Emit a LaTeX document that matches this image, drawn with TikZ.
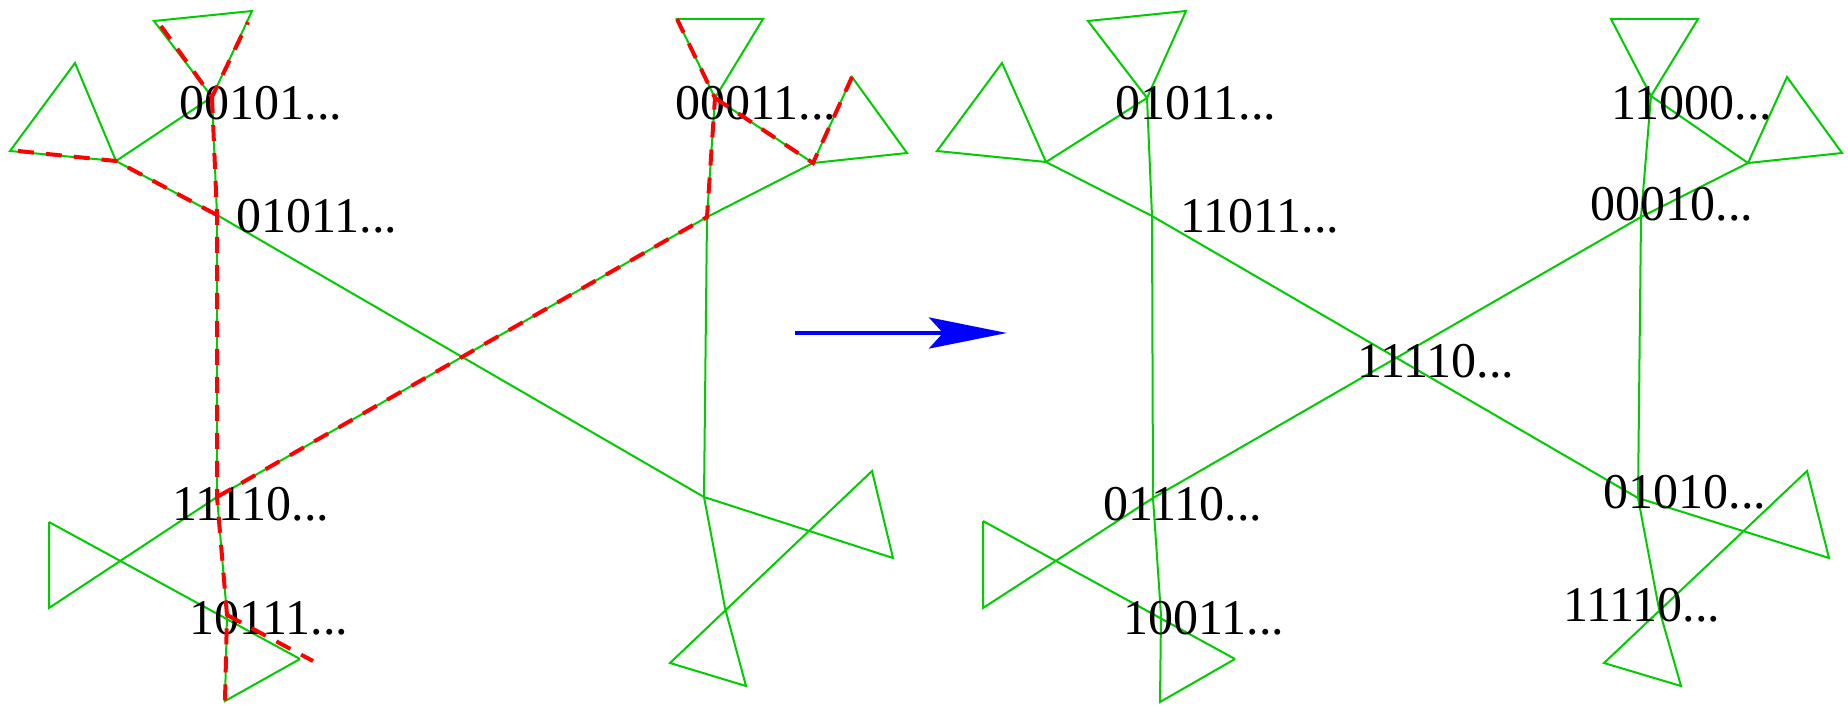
\documentclass[tikz,border=0pt]{standalone}
\usepackage{fontspec}
\setmainfont{Liberation Serif}
\usetikzlibrary{arrows.meta}
\definecolor{treegreen}{RGB}{0,204,0}
\definecolor{pathred}{RGB}{255,0,0}
\definecolor{arrowblue}{RGB}{0,0,255}
\tikzset{
  gline/.style={draw=treegreen, line width=1pt, line join=miter},
  rline/.style={draw=pathred, line width=2pt, dash pattern=on 8pt off 6pt},
  lab/.style={inner sep=0pt, font=\fontsize{25}{30}\selectfont},
}
\newcommand\drawtree[1]{%
  \draw[gline] (#1a1)--(#1a2)--(#1J1)--cycle;
  \draw[gline] (#1b1)--(#1b2)--(#1b3)--cycle;
  \draw[gline] (#1J1)--(#1b3)--(#1J2);
  \draw[gline] (#1J1)--(#1J2);
  \draw[gline] (#1J2)--(#1J3);
  \draw[gline] (#1J2)--(#1K2);
  \draw[gline] (#1J3)--(#1K1);
  \draw[gline] (#1J3)--(#1c1)--(#1c3)--(#1c2);
  \draw[gline] (#1d1)--(#1c2);
  \draw[gline] (#1d1)--(#1d2)--(#1J3);
  \draw[gline] (#1K1)--(#1K2);
  \draw[gline] (#1e1)--(#1e2)--(#1J4)--cycle;
  \draw[gline] (#1f1)--(#1f2)--(#1f3)--cycle;
  \draw[gline] (#1J4)--(#1f3)--(#1K1);
  \draw[gline] (#1J4)--(#1K1);
  \draw[gline] (#1K2)--(#1h2)--(#1h1)--(#1i2)--(#1i3)--(#1i1)--(#1K2);
}
\begin{document}
\begin{tikzpicture}[x=0.5pt,y=-0.5pt]
\useasboundingbox (0,0) rectangle (1848,706);
% ---------- left tree ----------
\coordinate (La1) at (154,21);  \coordinate (La2) at (252,11);  \coordinate (LJ1) at (212,97);
\coordinate (Lb1) at (75,63);   \coordinate (Lb2) at (10,151);  \coordinate (Lb3) at (116,161);
\coordinate (LJ2) at (217,215); \coordinate (LJ3) at (217,497);
\coordinate (Lc1) at (227,615); \coordinate (Lc2) at (300,659); \coordinate (Lc3) at (225,701);
\coordinate (Ld1) at (49,522);  \coordinate (Ld2) at (49,608);
\coordinate (LK1) at (707,217); \coordinate (LK2) at (704,497);
\coordinate (Le1) at (677,19);  \coordinate (Le2) at (763,19);  \coordinate (LJ4) at (715,98);
\coordinate (Lf1) at (852,77);  \coordinate (Lf2) at (907,153); \coordinate (Lf3) at (813,163);
\coordinate (Lh1) at (872,471); \coordinate (Lh2) at (893,558);
\coordinate (Li1) at (725,608); \coordinate (Li2) at (670,663); \coordinate (Li3) at (746,686);
% ---------- right tree ----------
\coordinate (Ra1) at (1088,21); \coordinate (Ra2) at (1186,11); \coordinate (RJ1) at (1147,98);
\coordinate (Rb1) at (1002,63); \coordinate (Rb2) at (937,151); \coordinate (Rb3) at (1046,162);
\coordinate (RJ2) at (1152,216); \coordinate (RJ3) at (1153,498);
\coordinate (Rc1) at (1161,615); \coordinate (Rc2) at (1235,659); \coordinate (Rc3) at (1160,702);
\coordinate (Rd1) at (983,521); \coordinate (Rd2) at (983,608);
\coordinate (RK1) at (1641,217); \coordinate (RK2) at (1638,498);
\coordinate (Re1) at (1611,19); \coordinate (Re2) at (1698,19); \coordinate (RJ4) at (1651,96);
\coordinate (Rf1) at (1787,77); \coordinate (Rf2) at (1842,153); \coordinate (Rf3) at (1748,163);
\coordinate (Rh1) at (1807,471); \coordinate (Rh2) at (1829,558);
\coordinate (Ri1) at (1659,609); \coordinate (Ri2) at (1604,663); \coordinate (Ri3) at (1681,686);

\drawtree{L}
\drawtree{R}

% ---------- labels ----------
\node[lab] (l1) at (261,103) {00101...};
\node[lab] (l2) at (317,216) {01011...};
\node[lab] (l3) at (251,504) {11110...};
\node[lab] (l4) at (269,618) {10111...};
\node[lab] (l5) at (756,103) {00011...};
\node[lab] (r1) at (1196,103) {01011...};
\node[lab] (r2) at (1260,216) {11011...};
\node[lab] (r3) at (1436,361) {11110...};
\node[lab] (r4) at (1183,504) {01110...};
\node[lab] (r5) at (1204,618) {10011...};
\node[lab] (r6) at (1692,103) {11000...};
\node[lab] (r7) at (1672,204) {00010...};
\node[lab] (r8) at (1685,492) {01010...};
\node[lab] (r9) at (1642,605) {11110...};

% ---------- red dashed path ----------
\coordinate (Ls1) at (161,26);
\coordinate (Ls2) at (248,22);
\coordinate (Ls3) at (18,151);
\coordinate (Ls4) at (313,661);
\draw[rline] (Ls1)--(LJ1)--(Ls2);
\draw[rline] (LJ1)--(LJ2)--(LJ3)--(Lc1)--(Lc3);
\draw[rline] (Ls3)--(Lb3)--(LJ2);
\draw[rline] (Lc1)--(Ls4);
\draw[rline] (LJ3)--(LK1)--(LJ4)--(Le1);
\draw[rline] (LJ4)--(Lf3)--(Lf1);

% ---------- blue arrow ----------
\coordinate (arrA) at (795,333);
\coordinate (arrB) at (1007,333);
\draw[draw=arrowblue, line width=2pt, -{Stealth[length=39pt, width=15.5pt, inset=7pt, fill=arrowblue]}] (arrA)--(arrB);
\end{tikzpicture}
\end{document}
